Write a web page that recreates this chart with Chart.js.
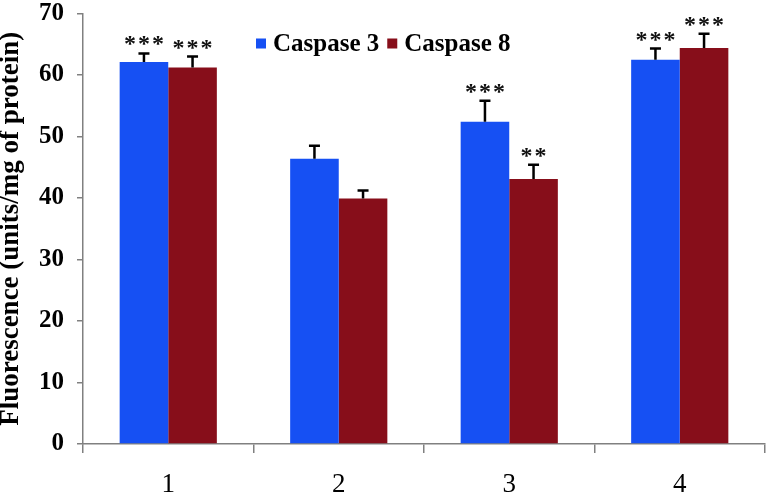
<!DOCTYPE html>
<html>
<head>
<meta charset="utf-8">
<script src="https://cdn.jsdelivr.net/npm/chart.js@4.4.0/dist/chart.umd.min.js"></script>
<style>
  html, body { margin: 0; padding: 0; background: #ffffff; }
  #wrap { width: 768px; height: 495px; position: relative; }
</style>
</head>
<body>
<div id="wrap"><canvas id="c"></canvas></div>
<script>
const categories = ['1', '2', '3', '4'];
const caspase3 = [62.1, 46.4, 52.4, 62.5];
const caspase8 = [61.2, 39.9, 43.1, 64.4];
const caspase3Err = [1.4, 2.1, 3.4, 1.8];
const caspase8Err = [1.8, 1.3, 2.3, 2.3];
const caspase3Sig = ['***', '', '***', '***'];
const caspase8Sig = ['***', '', '**', '***'];
const yMin = 0, yMax = 70, yStep = 10;

const SERIF = "'Liberation Serif', 'Times New Roman', serif";
const BLUE = '#1650F3';
const RED = '#870E1A';
const AXIS = '#808080';

const errors = [caspase3Err, caspase8Err];
const sigs = [caspase3Sig, caspase8Sig];

const errorBarPlugin = {
  id: 'errorBars',
  afterDatasetsDraw(chart) {
    const ctx = chart.ctx;
    const y = chart.scales.y;
    chart.data.datasets.forEach((ds, di) => {
      const meta = chart.getDatasetMeta(di);
      meta.data.forEach((bar, i) => {
        const v = ds.data[i];
        const top = y.getPixelForValue(v + errors[di][i]);
        ctx.save();
        ctx.strokeStyle = '#000000';
        ctx.lineWidth = 2.5;
        ctx.beginPath();
        ctx.moveTo(bar.x, bar.y);
        ctx.lineTo(bar.x, top);
        ctx.moveTo(bar.x - 5.5, top);
        ctx.lineTo(bar.x + 5.5, top);
        ctx.stroke();
        const s = sigs[di][i];
        if (s) {
          ctx.fillStyle = '#111111';
          ctx.font = 'bold 24px ' + SERIF;
          ctx.textAlign = 'center';
          ctx.textBaseline = 'alphabetic';
          if ('letterSpacing' in ctx) ctx.letterSpacing = '2px';
          ctx.fillText(s, bar.x + 1, top - 2);
        }
        ctx.restore();
      });
    });
  }
};

const legendPlugin = {
  id: 'innerLegend',
  afterDraw(chart) {
    const ctx = chart.ctx;
    const area = chart.chartArea;
    let x = area.left + 173;
    const cy = area.top + 30;
    ctx.save();
    ctx.font = 'bold 25px ' + SERIF;
    ctx.textBaseline = 'middle';
    ctx.textAlign = 'left';
    chart.data.datasets.forEach((ds) => {
      ctx.fillStyle = ds.backgroundColor;
      ctx.fillRect(x, cy - 5, 10, 10);
      x += 17;
      ctx.fillStyle = '#000000';
      ctx.fillText(ds.label, x, cy + 1);
      x += ctx.measureText(ds.label).width + 8;
    });
    ctx.restore();
  }
};

new Chart(document.getElementById('c'), {
  type: 'bar',
  data: {
    labels: categories,
    datasets: [
      { label: 'Caspase 3', data: caspase3, backgroundColor: BLUE, borderWidth: 0,
        categoryPercentage: 0.57, barPercentage: 1.0 },
      { label: 'Caspase 8', data: caspase8, backgroundColor: RED, borderWidth: 0,
        categoryPercentage: 0.57, barPercentage: 1.0 }
    ]
  },
  options: {
    responsive: true,
    maintainAspectRatio: false,
    animation: false,
    layout: { padding: { top: 13.5, right: 3, bottom: 0, left: 0 } },
    plugins: {
      legend: { display: false },
      tooltip: { enabled: false }
    },
    scales: {
      x: {
        grid: { display: true, drawOnChartArea: false, drawTicks: true, tickLength: 9,
                color: AXIS, lineWidth: 1.5, offset: true },
        border: { display: true, color: AXIS, width: 1.5 },
        ticks: { color: '#000000', padding: 18,
                 font: { family: SERIF, size: 27, weight: 'normal', lineHeight: 1 } },
        afterFit(scale) { scale.height = 51; scale.paddingLeft = 0; scale.paddingRight = 0; }
      },
      y: {
        min: yMin, max: yMax,
        grid: { display: true, drawOnChartArea: false, drawTicks: true, tickLength: 6,
                color: AXIS, lineWidth: 1.5 },
        border: { display: true, color: AXIS, width: 1.5 },
        ticks: { stepSize: yStep, color: '#000000', padding: 13,
                 font: { family: SERIF, size: 25, weight: 'bold', lineHeight: 1 } },
        title: { display: true, text: 'Fluorescence (units/mg of protein)', color: '#000000',
                 padding: { top: -2, bottom: 0 },
                 font: { family: SERIF, size: 27, weight: 'bold', lineHeight: 1 } },
        afterFit(scale) { scale.width = 83; scale.paddingTop = 0; scale.paddingBottom = 0; }
      }
    }
  },
  plugins: [errorBarPlugin, legendPlugin]
});
</script>
</body>
</html>
